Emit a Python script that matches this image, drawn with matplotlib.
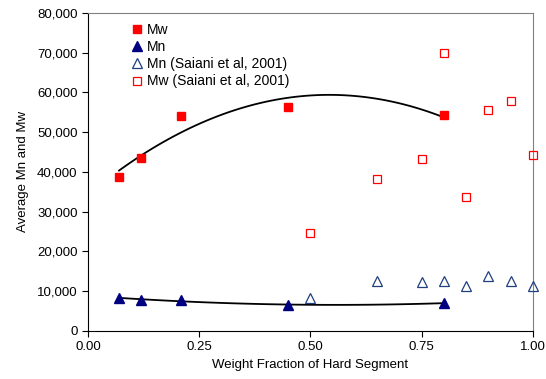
import numpy as np
import matplotlib.pyplot as plt
from matplotlib.ticker import FuncFormatter

# Data
wf_this = [0.07, 0.12, 0.21, 0.45, 0.80]
mw_this = [38800, 43500, 54000, 56300, 54200]
mn_this = [8300, 7800, 7700, 6500, 7000]

wf_saiani = [0.50, 0.65, 0.75, 0.80, 0.85, 0.90, 0.95, 1.00]
mn_saiani = [8300, 12500, 12300, 12500, 11200, 13700, 12600, 11200]
mw_saiani = [24600, 38300, 43300, 70000, 33600, 55500, 57800, 44300]

plt.rcParams['font.family'] = ['Liberation Sans', 'DejaVu Sans']
plt.rcParams['font.size'] = 9

fig = plt.figure(figsize=(5.46, 3.79), dpi=100)
ax = fig.add_axes([0.161, 0.127, 0.815, 0.839])

ax.plot(wf_this, mw_this, 's', color='red', ms=6, mec='red', label='Mw',
        zorder=3, clip_on=False)
ax.plot(wf_this, mn_this, '^', color='#000080', ms=7, mec='#000080', label='Mn',
        zorder=3, clip_on=False)
ax.plot(wf_saiani, mn_saiani, '^', mfc='none', mec='#1f3f7f', ms=7, mew=0.9,
        label='Mn (Saiani et al, 2001)', zorder=3, clip_on=False)
ax.plot(wf_saiani, mw_saiani, 's', mfc='none', mec='red', ms=6, mew=0.9,
        label='Mw (Saiani et al, 2001)', zorder=3, clip_on=False)

# 2nd order polynomial trendlines
xs = np.linspace(min(wf_this), max(wf_this), 100)
for ys in (mw_this, mn_this):
    c = np.polyfit(wf_this, ys, 2)
    ax.plot(xs, np.polyval(c, xs), color='black', lw=1.3, zorder=2)

ax.set_xlim(0, 1.0)
ax.set_ylim(0, 80000)
ax.set_xticks([0, 0.25, 0.5, 0.75, 1.0])
ax.set_yticks(range(0, 80001, 10000))
ax.xaxis.set_major_formatter(FuncFormatter(lambda v, p: f'{v:.2f}'))
ax.yaxis.set_major_formatter(FuncFormatter(lambda v, p: f'{int(v):,}'))
ax.tick_params(direction='out', length=4, width=0.8, labelsize=9.5)
ax.spines['top'].set_color('#808080')
ax.spines['right'].set_color('#808080')

ax.set_xlabel('Weight Fraction of Hard Segment', fontsize=9.5)
ax.set_ylabel('Average Mn and Mw', fontsize=9.5, labelpad=6)

ax.legend(loc='upper left', bbox_to_anchor=(0.08, 0.985), frameon=False,
          fontsize=10, handletextpad=0.1, labelspacing=0.22, handlelength=1.2,
          borderaxespad=0)

fig.savefig('out.png', dpi=100)
